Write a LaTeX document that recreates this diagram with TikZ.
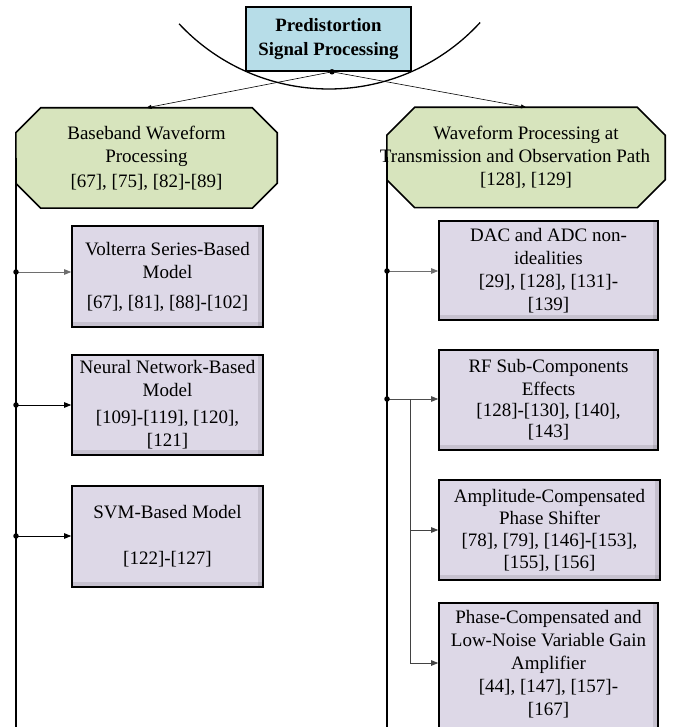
\documentclass[tikz,border=0pt]{standalone}
\usepackage{fontspec}
\setmainfont{Liberation Serif}
\usetikzlibrary{arrows.meta,backgrounds,calc}
\definecolor{rootfill}{RGB}{183,221,232}
\definecolor{groupfill}{RGB}{215,228,189}
\definecolor{leaffill}{RGB}{221,216,231}
\definecolor{feedgray}{RGB}{110,110,110}
\begin{document}
\begin{tikzpicture}[x=1pt,y=-1pt,
  txt/.style={font=\fontsize{19}{23}\selectfont, align=center, inner sep=0pt},
  rootbox/.style={txt, font=\fontsize{18.8}{24}\selectfont\bfseries, draw, line width=1.6pt,
    fill=rootfill, minimum width=165pt, minimum height=64pt},
  group/.style={txt, minimum height=100pt},
  octo/.style={draw, line width=1.6pt, fill=groupfill},
  leaf/.style={txt, draw, line width=1.6pt, fill=leaffill, minimum width=219pt, minimum height=100pt,
    path picture={
      \fill[black, opacity=0.10] (path picture bounding box.south west) rectangle
        ([yshift=5pt]path picture bounding box.south east);
      \fill[black, opacity=0.10] (path picture bounding box.north east) rectangle
        ([xshift=-5pt]path picture bounding box.south east);
    }},
  trunk/.style={line width=1.6pt},
  feed/.style={line width=0.8pt, -{Triangle[length=7pt,width=5.5pt]}},
  split/.style={line width=0.6pt, -{Triangle[length=5pt,width=4pt]}},
  joint/.style={circle, fill, inner sep=0pt, minimum size=5.5pt}
]
\useasboundingbox (0,0) rectangle (675,727);
\clip (0,0) rectangle (675,727);

% bowl under the root box
\draw[line width=1.3pt] plot[domain=137:42.5, samples=90, smooth]
  ({329+205*cos(\x)}, {-116+205*sin(\x)});

% root
\node[rootbox] (root) at (328.5,39) {Predistortion\\Signal Processing};
\coordinate (rj) at ([xshift=3.5pt]root.south);

% the two groups (octagons drawn behind their text)
\node[group, minimum width=261pt] (bb) at (146.5,158)
  {Baseband Waveform\\Processing\\[2pt]{[67], [75], [82]-[89]}};
\node[group, minimum width=278pt] (tx) at (526,157.5)
  {Waveform Processing at\\\hspace*{-22pt}Transmission and Observation Path\\{[128], [129]}};
\begin{scope}[on background layer]
  \foreach \g/\c in {bb/25, tx/28}{
    \draw[octo] ([xshift=\c pt]\g.north west) -- ([xshift=-\c pt]\g.north east)
      -- ([yshift=-\c pt]\g.north east) -- ([yshift=\c pt]\g.south east)
      -- ([xshift=-\c pt]\g.south east) -- ([xshift=\c pt]\g.south west)
      -- ([yshift=\c pt]\g.south west) -- ([yshift=-\c pt]\g.north west) -- cycle;
  }
\end{scope}

\draw[split] (rj) -- (bb.north);
\draw[split] (rj) -- (tx.north);
\node[joint] at (rj) {};

% left branch
\node[leaf, minimum width=191pt, minimum height=101pt] (vol) at (167.5,276.5)
  {Volterra Series-Based\\Model\\[7pt]{[67], [81], [88]-[102]}};
\node[leaf, minimum width=191pt] (nn) at (167.5,405)
  {Neural Network-Based\\Model\\[4pt]{[109]-[119], [120],}\\{[121]}};
\node[leaf, minimum width=191pt, minimum height=101pt] (svm) at (167.5,536.5)
  {SVM-Based Model\\[23pt]{[122]-[127]}};

\coordinate (lend) at (bb.west |- 0,740);
\draw[trunk] (bb.west) -- (lend);
\coordinate (j1) at (16,272);
\coordinate (j2) at (16,405);
\coordinate (j3) at (16,536);
\draw[feed, draw=feedgray] (j1) -- (j1 -| vol.west);
\draw[feed] (j2) -- (j2 -| nn.west);
\draw[feed] (j3) -- (j3 -| svm.west);
\foreach \j in {j1,j2,j3} \node[joint] at (\j) {};

% right branch
\node[leaf, minimum height=99pt] (dac) at (548.5,270.5)
  {DAC and ADC non-\\idealities\\{[29], [128], [131]-}\\{[139]}};
\node[leaf] (rf) at (548.5,400)
  {RF Sub-Components\\Effects\\[-2pt]{[128]-[130], [140],}\\[-2pt]{[143]}};
\node[leaf, minimum width=221pt] (amp) at (549.5,530)
  {Amplitude-Compensated\\[-1pt]Phase Shifter\\[-1pt]{[78], [79], [146]-[153],}\\[-1pt]{[155], [156]}};
\node[leaf, minimum height=150pt, anchor=north] (phase) at (548.5,602) {};
\node[txt] (phasetxt) at (548.5,664)
  {Phase-Compensated and\\Low-Noise Variable Gain\\Amplifier\\{[44], [147], [157]-}\\{[167]}};

\coordinate (rend) at (tx.west |- 0,740);
\draw[trunk] (tx.west) -- (rend);
\coordinate (k1) at (387,271);
\coordinate (k2) at (387,399);
\coordinate (b0) at (410,399);
\coordinate (b1) at (410,530);
\coordinate (b2) at (410,663);
\draw[feed, draw=feedgray] (k1) -- (k1 -| dac.west);
\draw[feed, draw=feedgray!70!black] (k2) -- (k2 -| rf.west);
\draw[line width=0.8pt, draw=feedgray!60!black] (b0) -- (b2);
\draw[feed, draw=feedgray!60!black] (b1) -- (b1 -| amp.west);
\draw[feed, draw=feedgray!60!black] (b2) -- (b2 -| phase.west);
\foreach \j in {k1,k2} \node[joint] at (\j) {};
\end{tikzpicture}
\end{document}
